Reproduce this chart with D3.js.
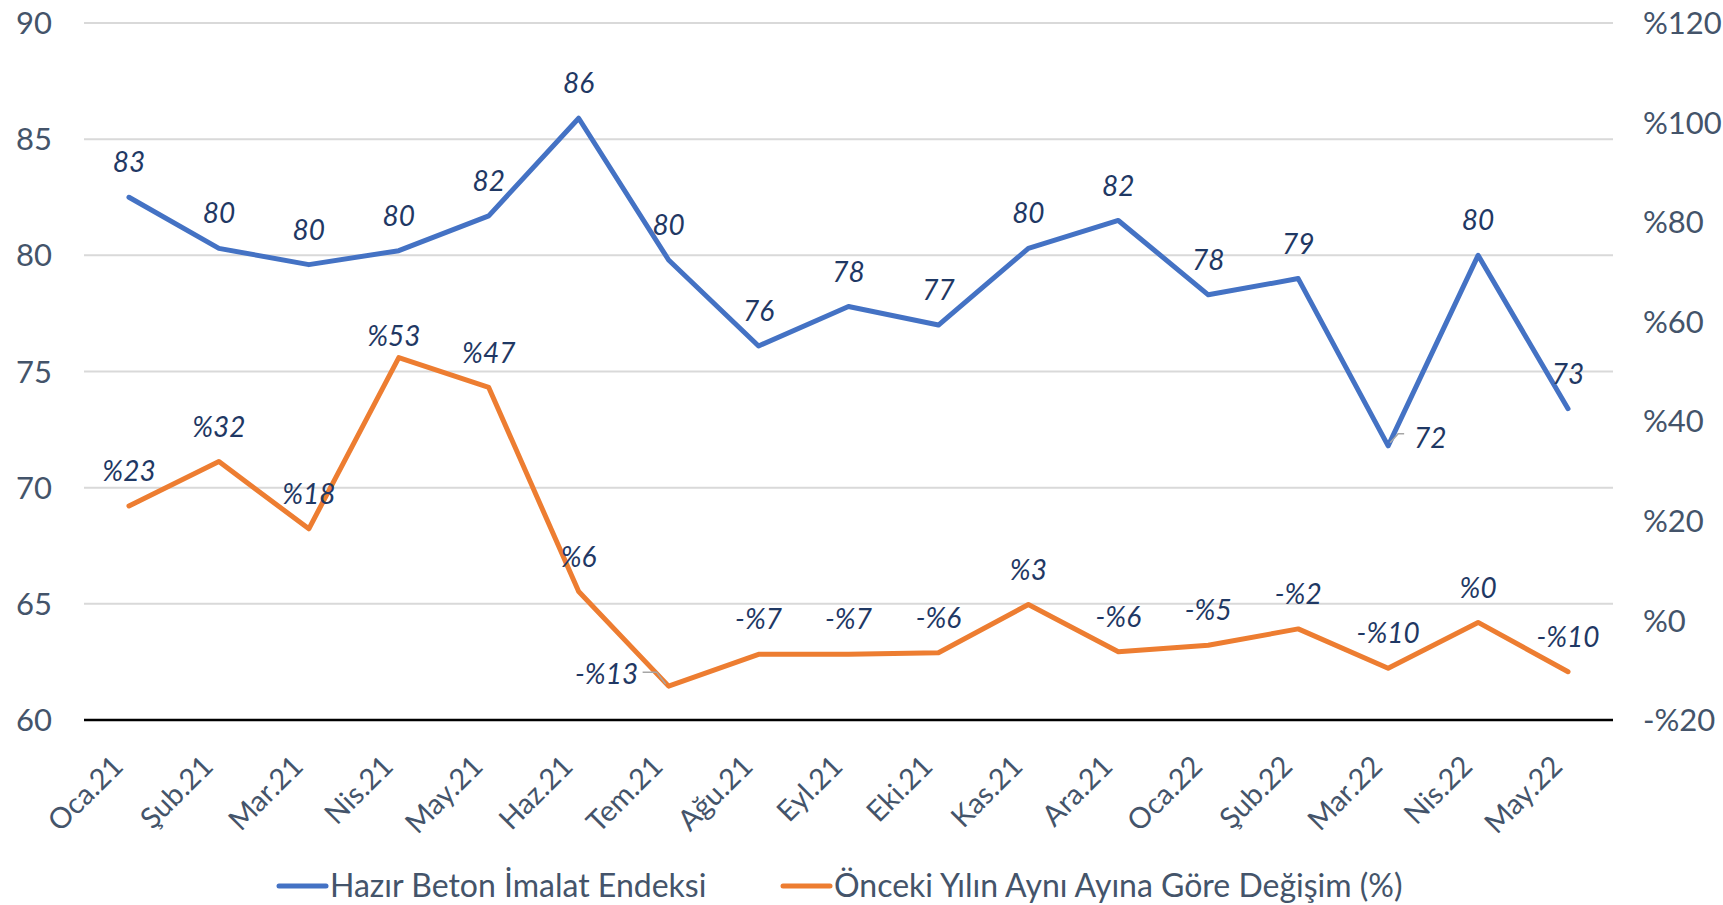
<!DOCTYPE html>
<meta charset="utf-8">
<style>
    body { margin: 0; background: #fff; }
    svg text { font-family: Lato, "Noto Sans", sans-serif; }
    .grid line { stroke: #d9d9d9; stroke-width: 2px; }
    .tick-label { fill: #44546a; font-size: 31px; }
    .x-label { fill: #44546a; font-size: 29px; }
    .data-label { fill: #1f3864; font-size: 28px; font-style: italic; }
    .legend text { fill: #44546a; font-size: 32px; }
</style>
<svg width="1723" height="905"></svg>
<script src="https://d3js.org/d3.v7.min.js"></script>
<script>
    var months = ["Oca.21", "Şub.21", "Mar.21", "Nis.21", "May.21", "Haz.21", "Tem.21", "Ağu.21", "Eyl.21",
        "Eki.21", "Kas.21", "Ara.21", "Oca.22", "Şub.22", "Mar.22", "Nis.22", "May.22"];

    var endeks = [82.5, 80.3, 79.6, 80.2, 81.7, 85.9, 79.8, 76.1, 77.8, 77.0, 80.3, 81.5, 78.3, 79.0, 71.8, 80.0, 73.4];

    var degisim = [23.0, 31.9, 18.4, 52.8, 46.8, 5.8, -13.2, -6.8, -6.8, -6.5, 3.2, -6.3, -5.0, -1.7, -9.6, -0.4, -10.3];

    var leftTicks = [60, 65, 70, 75, 80, 85, 90];
    var rightTicks = [-20, 0, 20, 40, 60, 80, 100, 120];

    var seriesNames = ["Hazır Beton İmalat Endeksi", "Önceki Yılın Aynı Ayına Göre Değişim (%)"];

    var svg = d3.select("svg"),
        plotLeft = 84, plotRight = 1613, plotTop = 23, plotBottom = 720;

    var x = d3.scalePoint().domain(months).range([plotLeft, plotRight]).padding(0.5);
    var yL = d3.scaleLinear().domain([60, 90]).range([plotBottom, plotTop]);
    var yR = d3.scaleLinear().domain([-20, 120]).range([plotBottom, plotTop]);

    var blue = "#4472c4", orange = "#ed7d31";

    // gridlines (left axis)
    svg.append("g").attr("class", "grid")
        .selectAll("line")
        .data(leftTicks.filter(function(d) { return d > 60; }))
        .enter().append("line")
        .attr("x1", plotLeft).attr("x2", plotRight)
        .attr("y1", function(d) { return yL(d); })
        .attr("y2", function(d) { return yL(d); });

    svg.append("line")
        .attr("x1", plotLeft).attr("x2", plotRight)
        .attr("y1", plotBottom).attr("y2", plotBottom)
        .attr("stroke", "#000").attr("stroke-width", 2.5);

    // axis labels
    svg.append("g").selectAll("text")
        .data(leftTicks)
        .enter().append("text")
        .attr("class", "tick-label")
        .attr("x", 52)
        .attr("y", function(d) { return yL(d); })
        .attr("dy", "0.36em")
        .attr("text-anchor", "end")
        .text(function(d) { return d; });

    svg.append("g").selectAll("text")
        .data(rightTicks)
        .enter().append("text")
        .attr("class", "tick-label")
        .attr("x", 1643)
        .attr("y", function(d) { return yR(d); })
        .attr("dy", "0.36em")
        .text(function(d) { return d < 0 ? "-%" + (-d) : "%" + d; });

    svg.append("g").selectAll("text")
        .data(months)
        .enter().append("text")
        .attr("class", "x-label")
        .attr("text-anchor", "end")
        .attr("transform", function(d) { return "translate(" + (x(d) - 4) + ",768) rotate(-45)"; })
        .text(function(d) { return d; });

    // lines
    var lineL = d3.line()
        .x(function(d, i) { return x(months[i]); })
        .y(function(d) { return yL(d); });
    var lineR = d3.line()
        .x(function(d, i) { return x(months[i]); })
        .y(function(d) { return yR(d); });

    svg.append("path").datum(endeks)
        .attr("d", lineL).attr("fill", "none")
        .attr("stroke", blue).attr("stroke-width", 5)
        .attr("stroke-linejoin", "round").attr("stroke-linecap", "round");

    svg.append("path").datum(degisim)
        .attr("d", lineR).attr("fill", "none")
        .attr("stroke", orange).attr("stroke-width", 5)
        .attr("stroke-linejoin", "round").attr("stroke-linecap", "round");

    // leader lines for the two moved labels
    var pMar = [x("Mar.22"), yL(endeks[14])];
    svg.append("polyline")
        .attr("points", [[pMar[0] + 2, pMar[1] - 3], [pMar[0] + 10, pMar[1] - 12], [pMar[0] + 16, pMar[1] - 12]].join(" "))
        .attr("fill", "none").attr("stroke", "#a6a6a6").attr("stroke-width", 1.5);
    var pTem = [x("Tem.21"), yR(degisim[6])];
    svg.append("polyline")
        .attr("points", [[pTem[0] - 3, pTem[1] - 2], [pTem[0] - 12, pTem[1] - 14], [pTem[0] - 26, pTem[1] - 14]].join(" "))
        .attr("fill", "none").attr("stroke", "#a6a6a6").attr("stroke-width", 1.5);

    // data labels
    function moveL(i) {
        if (i === 14) return [42, -8];
        return [0, -35];
    }
    function moveR(i) {
        if (i === 6) return [-62, -12];
        if (i === 3) return [-5, -22];
        return [0, -35];
    }

    svg.append("g").selectAll("text")
        .data(endeks)
        .enter().append("text")
        .attr("class", "data-label")
        .attr("text-anchor", "middle")
        .attr("x", function(d, i) { return x(months[i]) + moveL(i)[0]; })
        .attr("y", function(d, i) { return yL(d) + moveL(i)[1]; })
        .attr("dy", "0.36em")
        .text(function(d) { return Math.round(d); });

    svg.append("g").selectAll("text")
        .data(degisim)
        .enter().append("text")
        .attr("class", "data-label")
        .attr("text-anchor", "middle")
        .attr("x", function(d, i) { return x(months[i]) + moveR(i)[0]; })
        .attr("y", function(d, i) { return yR(d) + moveR(i)[1]; })
        .attr("dy", "0.36em")
        .text(function(d) {
            var r = Math.round(d);
            return r < 0 ? "-%" + (-r) : "%" + r;
        });

    // legend
    var legend = svg.append("g").attr("class", "legend");
    var legendX = [279, 783];
    [blue, orange].forEach(function(c, i) {
        legend.append("line")
            .attr("x1", legendX[i]).attr("x2", legendX[i] + 47)
            .attr("y1", 886).attr("y2", 886)
            .attr("stroke", c).attr("stroke-width", 5).attr("stroke-linecap", "round");
        legend.append("text")
            .attr("x", legendX[i] + 51).attr("y", 897)
            .text(seriesNames[i]);
    });
</script>
